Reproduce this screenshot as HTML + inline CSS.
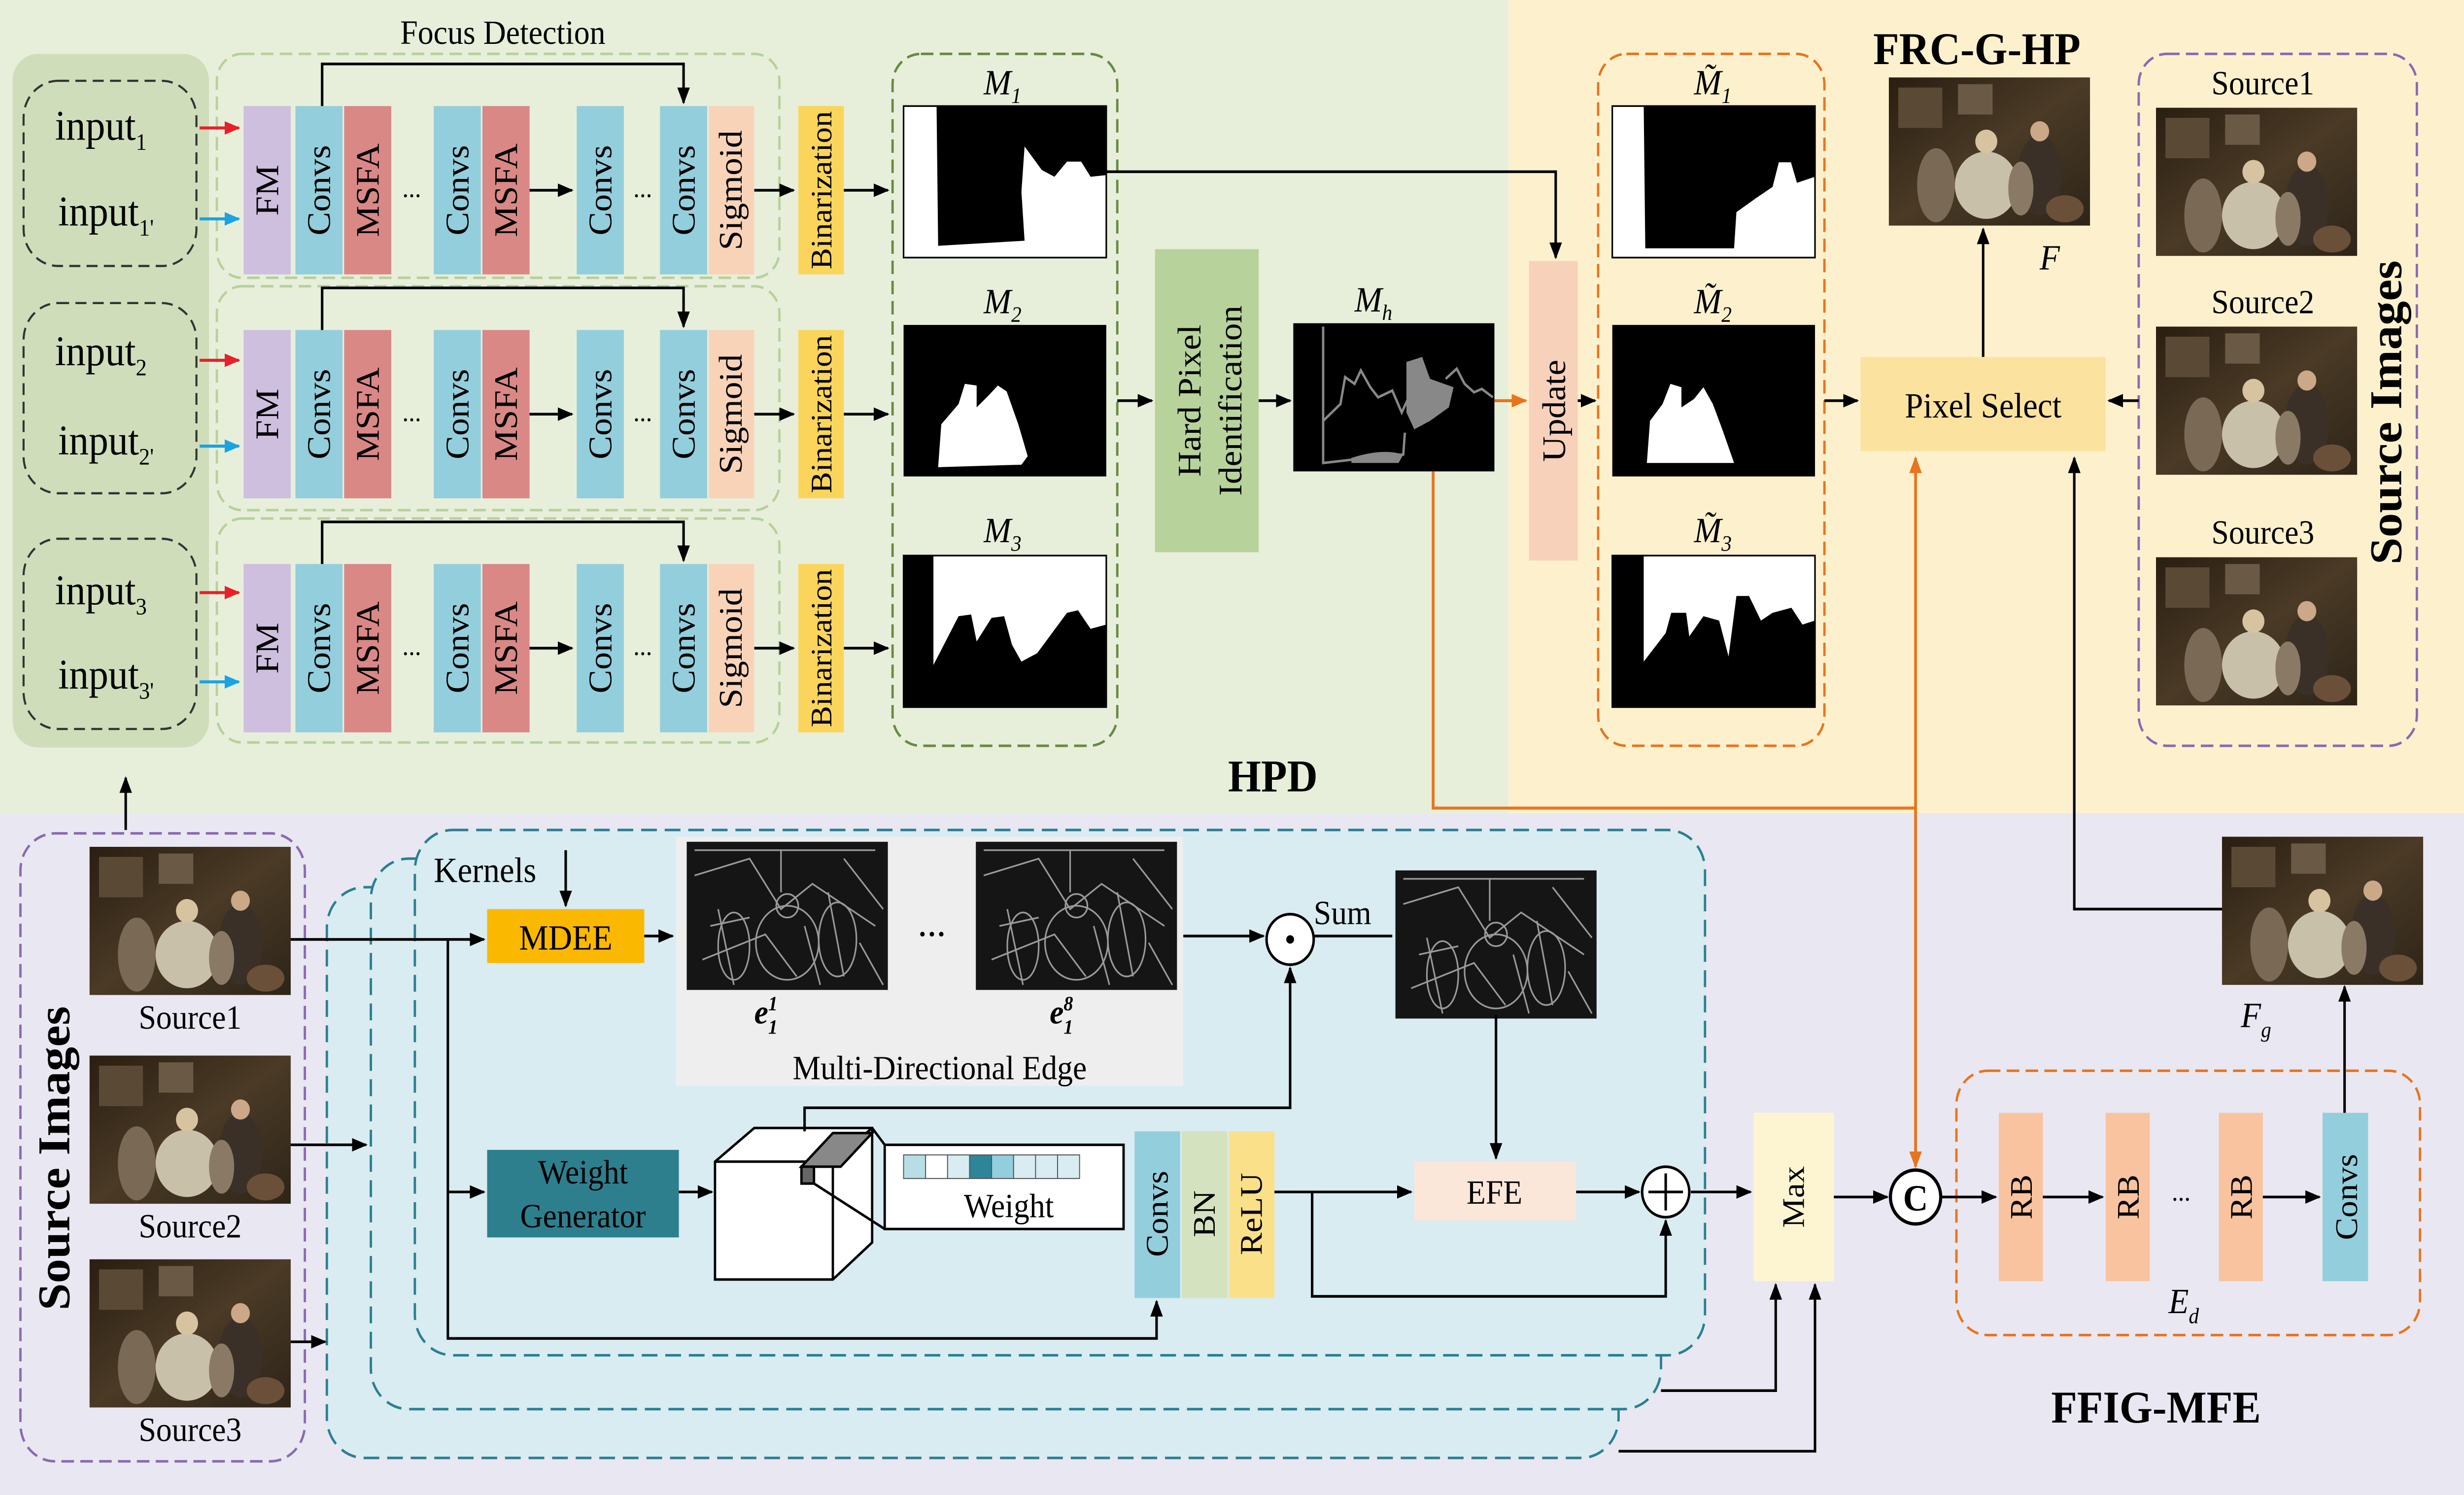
<!DOCTYPE html>
<html><head><meta charset="utf-8"><style>
html,body{margin:0;padding:0;background:#fff;overflow:hidden;width:100%;height:100%}
svg{display:block;position:fixed;left:0;top:0;width:100vw;height:100vh}
text{font-family:"Liberation Serif",serif}
</style></head><body>
<svg viewBox="0 0 1568 888" preserveAspectRatio="none" xmlns="http://www.w3.org/2000/svg">
<defs>
<marker id="a" markerWidth="10" markerHeight="8" refX="9" refY="4" orient="auto" markerUnits="userSpaceOnUse"><path d="M0,0L10,4L0,8z" fill="#000"/></marker>
<marker id="ar" markerWidth="10" markerHeight="8" refX="9" refY="4" orient="auto" markerUnits="userSpaceOnUse"><path d="M0,0L10,4L0,8z" fill="#e8202a"/></marker>
<marker id="ab" markerWidth="10" markerHeight="8" refX="9" refY="4" orient="auto" markerUnits="userSpaceOnUse"><path d="M0,0L10,4L0,8z" fill="#1aa3e0"/></marker>
<marker id="ao" markerWidth="10" markerHeight="8" refX="9" refY="4" orient="auto" markerUnits="userSpaceOnUse"><path d="M0,0L10,4L0,8z" fill="#e8741e"/></marker>
<marker id="aos" markerWidth="10" markerHeight="8" refX="1" refY="4" orient="auto" markerUnits="userSpaceOnUse"><path d="M10,0L0,4L10,8z" fill="#e8741e"/></marker>
<linearGradient id="pt" x1="0" y1="0" x2="1" y2="1"><stop offset="0" stop-color="#2a1e12"/><stop offset="0.5" stop-color="#4a3a26"/><stop offset="1" stop-color="#2d2418"/></linearGradient>
<g id="paint"><rect width="128" height="88" fill="url(#pt)"/><rect x="6" y="6" width="28" height="24" fill="#5a4a35"/><rect x="44" y="4" width="22" height="18" fill="#6a5a45"/><ellipse cx="62" cy="64" rx="20" ry="20" fill="#c9c0aa"/><circle cx="62" cy="38" r="7" fill="#d8c3a0"/><ellipse cx="30" cy="64" rx="12" ry="22" fill="#7a6a55"/><ellipse cx="96" cy="58" rx="14" ry="24" fill="#3a3028"/><circle cx="96" cy="32" r="6" fill="#caa888"/><ellipse cx="112" cy="78" rx="12" ry="8" fill="#6a5038"/><ellipse cx="84" cy="66" rx="8" ry="16" fill="#8a7a65"/></g>
<g id="edge"><rect width="128" height="88" fill="#151515"/><g stroke="#9a9a9a" stroke-width="1" fill="none"><path d="M5,20 L40,10 L60,40 L80,25 L120,50 M10,70 L50,55 L70,80 M90,30 L100,80 M20,40 L30,85 M5,5 H120 M60,5 V30 M100,10 L125,40 M15,50 L40,45 M110,60 L125,85 M75,50 L85,85"/><ellipse cx="64" cy="60" rx="20" ry="22"/><circle cx="64" cy="38" r="7"/><ellipse cx="30" cy="62" rx="10" ry="20"/><ellipse cx="96" cy="58" rx="12" ry="22"/></g></g>
</defs>
<rect x="0" y="0" width="960" height="483" fill="#e7efdb"/>
<rect x="960" y="0" width="608" height="483" fill="#fdf1cd"/>
<rect x="0" y="483" width="1568" height="405" fill="#e9e7f1"/>
<rect x="8" y="32" width="125" height="412" rx="16" fill="#cfddbb"/>
<g fill="none" stroke="#333" stroke-dasharray="7,4" stroke-width="1.3">
<rect x="15" y="48" width="110" height="110" rx="22"/>
<rect x="15" y="180" width="110" height="113" rx="22"/>
<rect x="15" y="320" width="110" height="113" rx="22"/>
</g>
<g font-size="25">
<text x="35" y="83">input<tspan font-size="14" dy="6">1</tspan></text>
<text x="37" y="134">input<tspan font-size="14" dy="6">1'</tspan></text>
<text x="35" y="217">input<tspan font-size="14" dy="6">2</tspan></text>
<text x="37" y="270">input<tspan font-size="14" dy="6">2'</tspan></text>
<text x="35" y="359">input<tspan font-size="14" dy="6">3</tspan></text>
<text x="37" y="409">input<tspan font-size="14" dy="6">3'</tspan></text>
</g>
<text x="320" y="26" font-size="20" text-anchor="middle">Focus Detection</text>
<g fill="none" stroke="#b8d09a" stroke-dasharray="8,4" stroke-width="1.5">
<rect x="138" y="32" width="358" height="133" rx="16"/>
<rect x="138" y="170" width="358" height="133" rx="16"/>
<rect x="138" y="308" width="358" height="133" rx="16"/>
</g>
<g id="row1">
<rect x="155" y="63" width="30" height="100" fill="#cdbfdd"/>
<rect x="188" y="63" width="30" height="100" fill="#93cedc"/>
<rect x="219" y="63" width="30" height="100" fill="#d98886"/>
<rect x="276" y="63" width="30" height="100" fill="#93cedc"/>
<rect x="307" y="63" width="30" height="100" fill="#d98886"/>
<rect x="367" y="63" width="30" height="100" fill="#93cedc"/>
<rect x="420" y="63" width="30" height="100" fill="#93cedc"/>
<rect x="451" y="63" width="29" height="100" fill="#f8d3b8"/>
<rect x="508" y="63" width="29" height="100" fill="#fbd55b"/>
<g font-size="21" text-anchor="middle">
<text transform="translate(177,113) rotate(-90)">FM</text>
<text transform="translate(210,113) rotate(-90)">Convs</text>
<text transform="translate(241,113) rotate(-90)">MSFA</text>
<text transform="translate(298,113) rotate(-90)">Convs</text>
<text transform="translate(329,113) rotate(-90)">MSFA</text>
<text transform="translate(389,113) rotate(-90)">Convs</text>
<text transform="translate(442,113) rotate(-90)">Convs</text>
<text transform="translate(472,113) rotate(-90)">Sigmoid</text>
<text transform="translate(529,113) rotate(-90)" font-size="19">Binarization</text>
</g>
<text x="262" y="117" font-size="16" text-anchor="middle">...</text>
<text x="409" y="117" font-size="16" text-anchor="middle">...</text>
<g stroke="#000" stroke-width="1.6" fill="none">
<path d="M337,113H364" marker-end="url(#a)"/>
<path d="M480,113H505" marker-end="url(#a)"/>
<path d="M537,113H565" marker-end="url(#a)"/>
<path d="M205,63V38H435V61" marker-end="url(#a)"/>
</g>
</g>
<use href="#row1" y="133"/>
<use href="#row1" y="272"/>
<g stroke-width="1.8" fill="none">
<path d="M127,76H152" stroke="#e8202a" marker-end="url(#ar)"/>
<path d="M127,130H152" stroke="#1aa3e0" marker-end="url(#ab)"/>
<path d="M127,214H152" stroke="#e8202a" marker-end="url(#ar)"/>
<path d="M127,265H152" stroke="#1aa3e0" marker-end="url(#ab)"/>
<path d="M127,352H152" stroke="#e8202a" marker-end="url(#ar)"/>
<path d="M127,405H152" stroke="#1aa3e0" marker-end="url(#ab)"/>
</g>
<rect x="568" y="32" width="143" height="411" rx="18" fill="none" stroke="#6a8a40" stroke-dasharray="8,4" stroke-width="1.5"/>
<!-- M1 -->
<rect x="575" y="63" width="129" height="90" fill="#fff" stroke="#000"/>
<path d="M596,63H704V104L694,105L688,96L679,96L671,105L663,101L652,87L650,114L652,143L597,146z" fill="#000"/>
<!-- M2 -->
<rect x="575" y="193" width="129" height="90" fill="#000"/>
<path d="M597,277.5L599,252L610,240L614,228L621.5,229L621.5,242L629,235L635,229L640.6,232.5L648,252L654,271L650,276z" fill="#fff"/>
<!-- M3 -->
<rect x="575" y="330" width="129" height="90" fill="#fff" stroke="#000"/>
<path d="M575,330H594V395L599,386L610,366L618,365L621.5,381L631,367L639,366L644,383L650,393L660,388L679,364L686,362.5L694,373.5L704,371V420H575z" fill="#000"/>
<g font-size="21" font-style="italic">
<text x="626" y="56">M<tspan font-size="13" dy="5">1</tspan></text>
<text x="626" y="186">M<tspan font-size="13" dy="5">2</tspan></text>
<text x="626" y="322">M<tspan font-size="13" dy="5">3</tspan></text>
<text x="862" y="185">M<tspan font-size="13" dy="5">h</tspan></text>
<text x="1078" y="56">M̃<tspan font-size="13" dy="5">1</tspan></text>
<text x="1078" y="186">M̃<tspan font-size="13" dy="5">2</tspan></text>
<text x="1078" y="322">M̃<tspan font-size="13" dy="5">3</tspan></text>
<text x="1298" y="160">F</text>
<text x="1426" y="610">F<tspan font-size="13" dy="6">g</tspan></text>
<text x="1380" y="780">E<tspan font-size="13" dy="6">d</tspan></text>
</g>
<rect x="735" y="148" width="66" height="180" fill="#b7d29a"/>
<text transform="translate(764,238) rotate(-90)" font-size="21" text-anchor="middle">Hard Pixel</text>
<text transform="translate(790,238) rotate(-90)" font-size="21" text-anchor="middle">Identification</text>
<!-- Mh -->
<rect x="823" y="192" width="128" height="88" fill="#000"/>
<path d="M842,194V275L870,272L893,270L894,257M842,250L853,240L856,224L862,228L866,220L872,230L877,236L886,232L892,245L897,235M920,225L927,219L932,228L938,233L943,231L950,236" stroke="#888" stroke-width="1.5" fill="none"/>
<path d="M895,215L905,212L910,225L925,230L922,242L910,250L900,255L895,245z" fill="#888"/>
<path d="M860,272Q880,266 893,270L890,275H860z" fill="#888"/>
<rect x="973" y="155" width="31" height="178" fill="#f8d1bb"/>
<text transform="translate(996,244) rotate(-90)" font-size="21" text-anchor="middle">Update</text>
<rect x="1017" y="32" width="144" height="411" rx="18" fill="none" stroke="#e8741e" stroke-dasharray="8,4" stroke-width="1.5"/>
<!-- M~1 -->
<rect x="1026" y="63" width="129" height="90" fill="#fff" stroke="#000"/>
<path d="M1046,63H1155V105L1143.5,108.6L1139.7,96.4L1132,96.4L1128,111L1117,118L1105,126L1103.5,147.5L1047,147.5z" fill="#000"/>
<!-- M~2 -->
<rect x="1026" y="193" width="129" height="90" fill="#000"/>
<path d="M1048,275L1050,250L1058,240L1063,228L1070,230L1070,242L1078,237L1084,230L1090,240L1096,255L1103.5,275z" fill="#fff"/>
<!-- M~3 -->
<rect x="1026" y="330" width="129" height="90" fill="#fff" stroke="#000"/>
<path d="M1026,330H1046V393L1060,376L1063.5,364L1073,364L1075,378L1084,366L1094,368.6L1100,390L1105,354L1113,354L1120.6,368.6L1128,364L1140,361L1147,371L1155,368.6V420H1026z" fill="#000"/>
<text x="1258" y="38" font-size="27" font-weight="bold" text-anchor="middle">FRC-G-HP</text>
<use href="#paint" x="1202" y="46"/>
<rect x="1184" y="212" width="156" height="56" fill="#fbe39f"/>
<text x="1262" y="248" font-size="21" text-anchor="middle">Pixel Select</text>
<rect x="1361" y="32" width="177" height="411" rx="18" fill="none" stroke="#8a6ab0" stroke-dasharray="8,4" stroke-width="1.5"/>
<g font-size="20" text-anchor="middle"><text x="1440" y="56">Source1</text><text x="1440" y="186">Source2</text><text x="1440" y="323">Source3</text></g>
<use href="#paint" x="1372" y="64"/><use href="#paint" x="1372" y="194"/><use href="#paint" x="1372" y="331"/>
<text transform="translate(1528,245) rotate(-90)" font-size="29" font-weight="bold" text-anchor="middle">Source Images</text>
<text x="810" y="470" font-size="27" font-weight="bold" text-anchor="middle">HPD</text>
<g stroke="#000" stroke-width="1.6" fill="none">
<path d="M711,238H733" marker-end="url(#a)"/>
<path d="M801,238H821" marker-end="url(#a)"/>
<path d="M1004,238H1015" marker-end="url(#a)"/>
<path d="M704,102H990V153" marker-end="url(#a)"/>
<path d="M1161,238H1182" marker-end="url(#a)"/>
<path d="M1361,238H1342" marker-end="url(#a)"/>
<path d="M1262,212V136" marker-end="url(#a)"/>
<path d="M1414,540H1320V272" marker-end="url(#a)"/>
<path d="M80,493V462" marker-end="url(#a)"/>
</g>
<g stroke="#e8741e" stroke-width="1.8" fill="none">
<path d="M951,238H971" marker-end="url(#ao)"/>
<path d="M912,280V480H1219"/>
<path d="M1219,272V693" marker-start="url(#aos)" marker-end="url(#ao)"/>
</g>
<rect x="13" y="495" width="181" height="373" rx="22" fill="none" stroke="#8a6ab0" stroke-dasharray="8,4" stroke-width="1.5"/>
<use href="#paint" x="57" y="503"/><use href="#paint" x="57" y="627"/><use href="#paint" x="57" y="748"/>
<g font-size="20" text-anchor="middle"><text x="121" y="611">Source1</text><text x="121" y="735">Source2</text><text x="121" y="856">Source3</text></g>
<text transform="translate(44,688) rotate(-90)" font-size="29" font-weight="bold" text-anchor="middle">Source Images</text>
<g fill="#d8ecf1" stroke="#2a7f92" stroke-dasharray="10,5" stroke-width="1.5">
<rect x="208" y="527" width="822" height="339" rx="24"/>
<rect x="236" y="510" width="821" height="327" rx="24"/>
<rect x="264" y="493" width="821" height="312" rx="24"/>
</g>
<rect x="430" y="497" width="323" height="148" fill="#eeeeee"/>
<use href="#edge" x="437" y="500"/><use href="#edge" x="621" y="500"/>
<text x="593" y="556" font-size="24" text-anchor="middle">...</text>
<g font-size="20" font-style="italic" font-weight="bold"><text x="480" y="608">e<tspan font-size="12" dy="-8">1</tspan><tspan font-size="12" dx="-6" dy="14">1</tspan></text><text x="668" y="608">e<tspan font-size="12" dy="-8">8</tspan><tspan font-size="12" dx="-6" dy="14">1</tspan></text></g>
<text x="598" y="641" font-size="20" text-anchor="middle">Multi-Directional  Edge</text>
<text x="276" y="524" font-size="21">Kernels</text>
<rect x="310" y="540" width="100" height="32" fill="#fbb800"/>
<text x="360" y="564" font-size="21" text-anchor="middle">MDEE</text>
<use href="#edge" x="888" y="517"/>
<circle cx="821" cy="558" r="15" fill="#fff" stroke="#000" stroke-width="1.6"/><circle cx="821" cy="558" r="2.5" fill="#000"/>
<text x="836" y="549" font-size="20">Sum</text>
<rect x="310" y="683" width="122" height="52" fill="#2e7f8e"/>
<text x="371" y="703" font-size="20" text-anchor="middle">Weight</text><text x="371" y="729" font-size="20" text-anchor="middle">Generator</text>
<g stroke="#000" stroke-width="1.5">
<path d="M455,690L480,670H555V738L530,760H455z" fill="#fff"/>
<path d="M455,690H530L555,670M530,690V760" fill="none"/>
<path d="M510,693L530,673H555L535,693z" fill="#888"/>
<rect x="510" y="693" width="8" height="10" fill="#666"/>
<path d="M555,670L563,680M518,703L563,730" fill="none"/>
<rect x="563" y="680" width="152" height="50" fill="#fff"/>
</g>
<g stroke="#555" stroke-width=".6"><rect x="575" y="686" width="14" height="14" fill="#b7dde6"/><rect x="589" y="686" width="14" height="14" fill="#fff"/><rect x="603" y="686" width="14" height="14" fill="#d8ecf1"/><rect x="617" y="686" width="14" height="14" fill="#2e8599"/><rect x="631" y="686" width="14" height="14" fill="#93cedc"/><rect x="645" y="686" width="14" height="14" fill="#d8ecf1"/><rect x="659" y="686" width="14" height="14" fill="#d8ecf1"/><rect x="673" y="686" width="14" height="14" fill="#d8ecf1"/></g>
<text x="642" y="723" font-size="20" text-anchor="middle">Weight</text>
<rect x="722" y="672" width="29" height="99" fill="#93cedc"/><rect x="752" y="672" width="29" height="99" fill="#d5e2c0"/><rect x="782" y="672" width="29" height="99" fill="#fbe08a"/>
<g font-size="20" text-anchor="middle"><text transform="translate(743,721) rotate(-90)">Convs</text><text transform="translate(773,721) rotate(-90)">BN</text><text transform="translate(803,721) rotate(-90)">ReLU</text></g>
<rect x="900" y="690" width="103" height="35" fill="#fbe6da"/>
<text x="951" y="715" font-size="20" text-anchor="middle">EFE</text>
<circle cx="1060" cy="708" r="15" fill="#fff" stroke="#000" stroke-width="1.6"/><path d="M1049,708H1071M1060,697V719" stroke="#000" stroke-width="1.6"/>
<rect x="1116" y="661" width="51" height="100" fill="#fdf5d2"/>
<text transform="translate(1148,711) rotate(-90)" font-size="20" text-anchor="middle">Max</text>
<circle cx="1219" cy="711" r="16" fill="#fff" stroke="#000" stroke-width="2"/><text x="1219" y="719" font-size="22" font-weight="bold" text-anchor="middle">C</text>
<rect x="1245" y="636" width="295" height="157" rx="20" fill="none" stroke="#e8741e" stroke-dasharray="8,4" stroke-width="1.5"/>
<rect x="1272" y="661" width="28" height="100" fill="#f8c39e"/><rect x="1340" y="661" width="28" height="100" fill="#f8c39e"/><rect x="1412" y="661" width="28" height="100" fill="#f8c39e"/><rect x="1478" y="661" width="29" height="100" fill="#93cedc"/>
<g font-size="20" text-anchor="middle"><text transform="translate(1293,711) rotate(-90)">RB</text><text transform="translate(1361,711) rotate(-90)">RB</text><text transform="translate(1433,711) rotate(-90)">RB</text><text transform="translate(1500,711) rotate(-90)">Convs</text></g>
<text x="1388" y="713" font-size="16" text-anchor="middle">...</text>
<use href="#paint" x="1414" y="497"/>
<text x="1372" y="845" font-size="27" font-weight="bold" text-anchor="middle">FFIG-MFE</text>
<g stroke="#000" stroke-width="1.6" fill="none">
<path d="M185,558H308" marker-end="url(#a)"/>
<path d="M285,558V795H736V773" marker-end="url(#a)"/>
<path d="M285,708H308" marker-end="url(#a)"/>
<path d="M185,680H233" marker-end="url(#a)"/>
<path d="M185,797H207" marker-end="url(#a)"/>
<path d="M360,505V538" marker-end="url(#a)"/>
<path d="M410,556H428" marker-end="url(#a)"/>
<path d="M753,556H804" marker-end="url(#a)"/>
<path d="M836,556H886"/>
<path d="M512,672V658H821V575" marker-end="url(#a)"/>
<path d="M432,708H453" marker-end="url(#a)"/>
<path d="M952,603V688" marker-end="url(#a)"/>
<path d="M811,708H898" marker-end="url(#a)"/>
<path d="M835,708V770H1060V725" marker-end="url(#a)"/>
<path d="M1003,708H1043" marker-end="url(#a)"/>
<path d="M1076,708H1114" marker-end="url(#a)"/>
<path d="M1167,711H1201" marker-end="url(#a)"/>
<path d="M1235,711H1270" marker-end="url(#a)"/>
<path d="M1300,711H1338" marker-end="url(#a)"/>
<path d="M1440,711H1476" marker-end="url(#a)"/>
<path d="M1492,661V586" marker-end="url(#a)"/>
<path d="M1057,826H1130V763" marker-end="url(#a)"/>
<path d="M1030,862H1155V763" marker-end="url(#a)"/>
</g>
</svg>
</body></html>
